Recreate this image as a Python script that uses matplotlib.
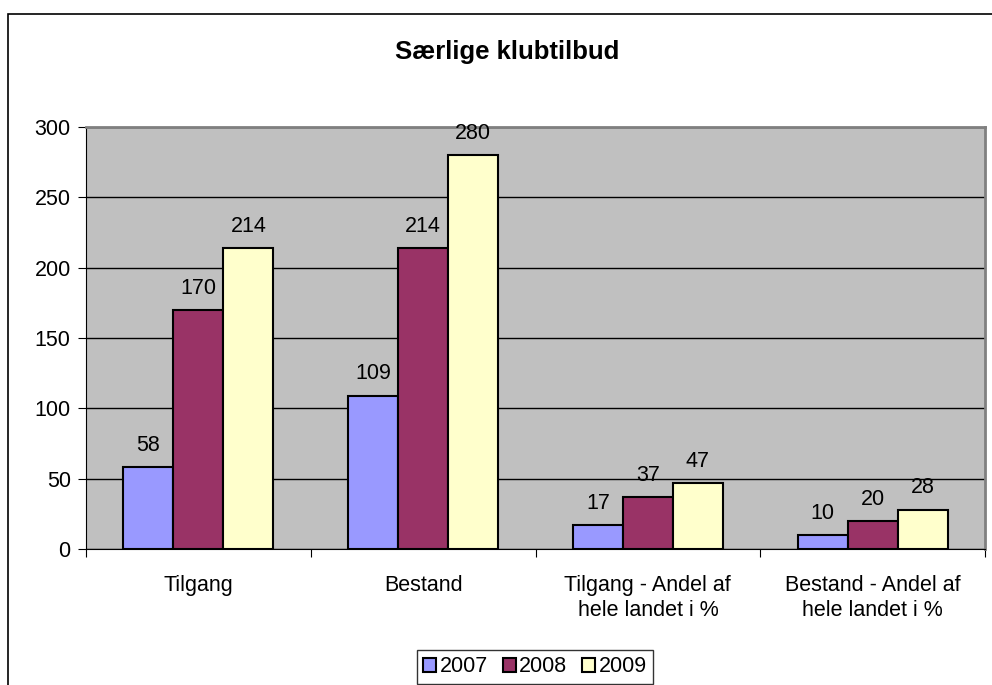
import matplotlib.pyplot as plt
import numpy as np
from matplotlib.patches import Rectangle

categories = ["Tilgang", "Bestand", "Tilgang - Andel af\nhele landet i %", "Bestand - Andel af\nhele landet i %"]
years = ["2007", "2008", "2009"]
v2007 = [58, 109, 17, 10]
v2008 = [170, 214, 37, 20]
v2009 = [214, 280, 47, 28]
colors = ["#9999FF", "#993366", "#FFFFCC"]

plt.rcParams["font.family"] = ["Liberation Sans", "DejaVu Sans"]
fs = 15.5

fig = plt.figure(figsize=(9.92, 6.85), dpi=100)
W, H = 992, 685
# outer chart frame (cut at right and bottom)
fig.patches.append(Rectangle((8 / W, -0.1), 1.0, 1 - 14 / H + 0.1, transform=fig.transFigure,
                             fill=False, edgecolor="black", linewidth=1.2))

ax = fig.add_axes([86 / W, 1 - 549 / H, (985 - 86) / W, (549 - 127) / H])
ax.set_facecolor("#C0C0C0")

x = np.arange(len(categories))
w = 50 / 225
for i, (vals, c) in enumerate(zip([v2007, v2008, v2009], colors)):
    bars = ax.bar(x + (i - 1) * w, vals, w, color=c, edgecolor="black", linewidth=1.5,
                  label=years[i], zorder=3)
    for b, v in zip(bars, vals):
        ax.text(b.get_x() + b.get_width() / 2, v + 8, str(v), ha="center", va="bottom",
                fontsize=fs)

ax.set_xlim(-0.5, 3.5)
ax.set_ylim(0, 300)
ax.set_yticks(range(0, 301, 50))
ax.yaxis.grid(True, color="black", linewidth=1)
ax.set_axisbelow(True)
ax.set_xticks(np.arange(-0.5, 4, 1))
ax.set_xticklabels([])
ax.set_xticks(x, minor=True)
ax.set_xticklabels(categories, minor=True, fontsize=fs, linespacing=1.2)
ax.tick_params(axis="x", which="minor", length=0, pad=19)
ax.tick_params(axis="x", which="major", length=6, direction="out")
ax.tick_params(axis="y", length=6, direction="out", labelsize=fs, pad=5)
for s in ["top", "right"]:
    ax.spines[s].set_color("#808080")
    ax.spines[s].set_linewidth(2)
ax.spines["left"].set_color("black")
ax.spines["bottom"].set_color("black")

fig.text(507 / W, 1 - 52 / H, "Særlige klubtilbud", ha="center", va="center",
         fontsize=18.5, fontweight="bold")

leg = fig.legend(loc="center", bbox_to_anchor=(535 / W, 1 - 667 / H), ncol=3, fontsize=fs,
                 frameon=True, fancybox=False, edgecolor="black", handlelength=0.6,
                 handleheight=0.6, handletextpad=0.15, columnspacing=0.7, borderpad=0.3)
leg.get_frame().set_linewidth(1)

fig.savefig("out.png", dpi=100)
